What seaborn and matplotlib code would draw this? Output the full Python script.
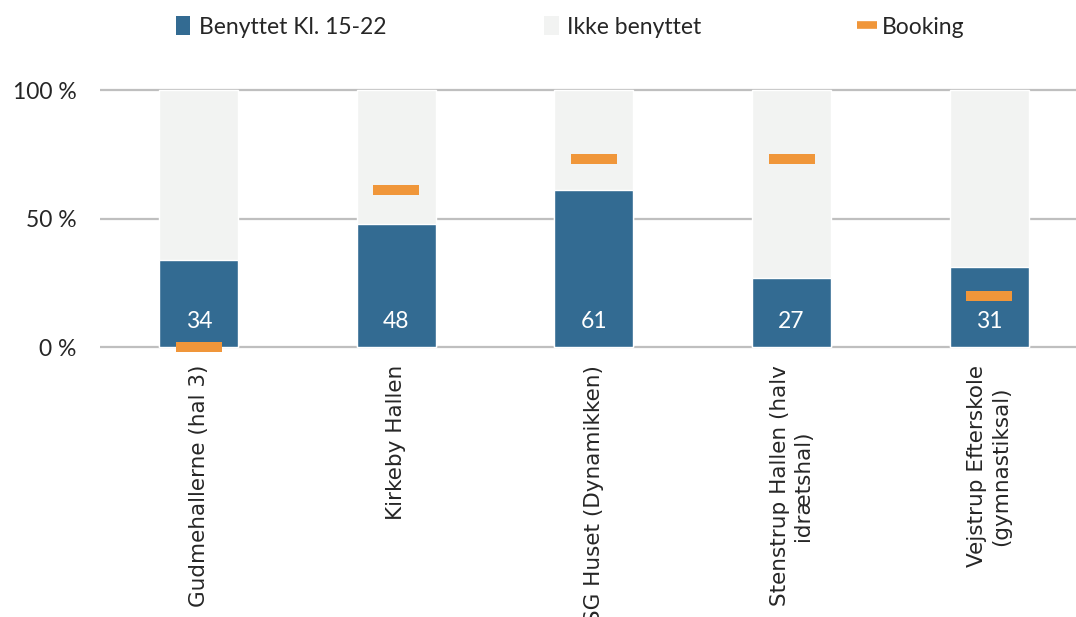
import matplotlib
matplotlib.use("Agg")
import matplotlib.pyplot as plt
import seaborn as sns
import pandas as pd
from matplotlib.patches import Patch
from matplotlib.lines import Line2D

categories = ["Gudmehallerne (hal 3)", "Kirkeby Hallen", "SG Huset (Dynamikken)",
              "Stenstrup Hallen (halv\nidrætshal)", "Vejstrup Efterskole\n(gymnastiksal)"]
benyttet = [34, 48, 61, 27, 31]
total = [100, 100, 100, 100, 100]
booking = [0, 61, 73, 73, 20]
yticks = [0, 50, 100]
ytick_labels = ["0 %", "50 %", "100 %"]

BLUE = "#336B92"
LIGHT = "#F2F3F2"
ORANGE = "#F0963A"
GRID = "#BFBFBF"

sns.set_theme(style="white")
plt.rcParams["font.family"] = ["Lato", "DejaVu Sans"]

df = pd.DataFrame({"cat": categories, "benyttet": benyttet, "total": total, "booking": booking})

fig = plt.figure(figsize=(10.76, 6.17), dpi=100)
ax = fig.add_axes([0.093, 0.4334, 0.918, 0.4247])

sns.barplot(data=df, x="cat", y="total", color=LIGHT, width=0.4, saturation=1, ax=ax, zorder=2)
sns.barplot(data=df, x="cat", y="benyttet", color=BLUE, width=0.4, saturation=1, ax=ax, zorder=3)
sns.scatterplot(data=df, x="cat", y="booking", marker="_", s=1050, linewidth=7.2,
                color=ORANGE, ax=ax, zorder=5, clip_on=False)

for i, v in enumerate(benyttet):
    ax.text(i, 10, str(v), ha="center", va="center", color="white", fontsize=16.5, zorder=6)

ax.set_xlim(-0.5, 4.5)
ax.set_ylim(-1, 101)
ax.yaxis.grid(True, color=GRID, linewidth=1.6)
ax.set_axisbelow(True)
ax.tick_params(axis="both", length=0)
ax.tick_params(axis="y", pad=17, labelsize=16.5)
ax.tick_params(axis="x", pad=11, labelsize=15.5, labelfontfamily="DejaVu Sans")
ax.set_yticks(yticks)
ax.set_yticklabels(ytick_labels)
ax.set_xlabel("")
ax.set_ylabel("")
for s in ax.spines.values():
    s.set_visible(False)

ax.set_xticks(range(len(categories)))
ax.set_xticklabels(categories, rotation=90, multialignment="center", va="top", ha="center")

handles = [Patch(facecolor=BLUE, edgecolor="none"),
           Patch(facecolor=LIGHT, edgecolor="none"),
           Line2D([0], [0], color=ORANGE, marker="_", linestyle="none", markersize=14, markeredgewidth=5.5)]
labels = ["Benyttet Kl. 15-22", "Ikke benyttet", "Booking"]
fig.legend(handles, labels, ncol=3, loc="center", bbox_to_anchor=(0.530, 0.956), frameon=False,
           fontsize=16.5, handlelength=0.65, handleheight=0.9, handletextpad=0.35, columnspacing=6.9)

fig.savefig("out.png", dpi=100)
